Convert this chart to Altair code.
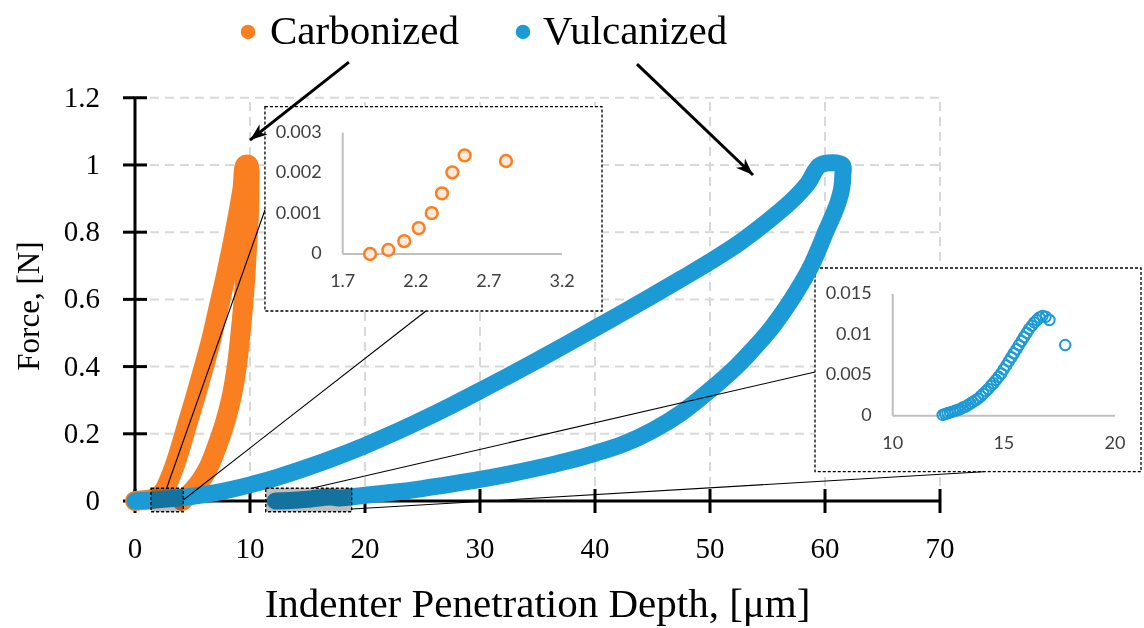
import math
import altair as alt
import pandas as pd

ORANGE = "#FA7F20"
BLUE = "#1B9AD6"
SERIF = "Liberation Serif"
SANS = "Lato"

# ---------------- main curves ----------------
carb_x = [0.0, 1.0, 1.9, 2.5, 3.0, 3.5, 4.0, 4.6, 5.3, 6.0, 6.7, 7.3, 7.9, 8.45, 8.95, 9.35, 9.6,
          9.85, 9.95, 9.9, 9.75, 9.6, 9.4, 9.15, 8.85, 8.4, 7.8, 7.1, 6.4, 5.7, 5.0, 4.4, 4.1]
carb_y = [0.0, 0.003, 0.01, 0.03, 0.065, 0.11, 0.165, 0.235, 0.315, 0.4, 0.49, 0.58, 0.67, 0.76, 0.85, 0.93, 1.0,
          1.0, 0.93, 0.85, 0.76, 0.67, 0.58, 0.49, 0.4, 0.31, 0.23, 0.16, 0.1, 0.06, 0.03, 0.01, 0.0]

vulc_x = [0, 2.5, 5, 7.5, 10, 12.5, 15, 17.5, 20, 22.5, 25, 27.5, 30, 32.5, 35, 37.5, 40, 42.5, 45,
          47.5, 50, 52.5, 55, 57, 58.5, 59.6,
          61.5, 61.55, 61.45, 61.15, 60.7, 60.05, 59.45, 58.8, 58.0, 57.1, 56.1, 55.0, 53.7, 52.3,
          50.0, 47.5, 45.0, 42.5, 40, 37.5, 35, 32.5, 30, 27.5, 25, 22.5, 20, 18.5, 17.8, 17, 15, 13.5, 12.2]
vulc_y = [0, 0.005, 0.014, 0.028, 0.048, 0.072, 0.100, 0.131, 0.165, 0.202, 0.242, 0.284, 0.328, 0.373,
          0.419, 0.466, 0.514, 0.562, 0.611, 0.661, 0.712, 0.767, 0.832, 0.89, 0.945, 1.0,
          1.0, 0.97, 0.93, 0.89, 0.85, 0.8, 0.75, 0.7, 0.65, 0.6, 0.55, 0.5, 0.45, 0.4,
          0.33, 0.262, 0.21, 0.17, 0.142, 0.118, 0.098, 0.080, 0.064, 0.050, 0.037, 0.026, 0.017, 0.011,
          0.009, 0.012, 0.005, 0.0013, 0.0]

# ---------------- inset data ----------------
carb_in_x = [1.887, 2.012, 2.121, 2.220, 2.309, 2.379, 2.450, 2.534, 2.817]
carb_in_y = [0.0, 0.0001, 0.00032, 0.00064, 0.00101, 0.0015, 0.00202, 0.00244, 0.0023]

vulc_in_x = [12.25, 12.36, 12.47, 12.58, 12.70, 12.81, 12.92, 13.04, 13.15, 13.27, 13.38, 13.50,
             13.61, 13.73, 13.84, 13.96, 14.07, 14.19, 14.30, 14.42, 14.53, 14.65, 14.76, 14.88,
             14.99, 15.11, 15.22, 15.34, 15.45, 15.57, 15.68, 15.80, 15.91, 16.03, 16.14, 16.26,
             16.37, 16.49, 16.60, 16.74, 16.88, 17.05, 17.76]
vulc_in_y = [0.0001, 0.0002, 0.0003, 0.0004, 0.0005, 0.0006, 0.0007, 0.0008, 0.0010, 0.0011, 0.0013, 0.0015,
             0.0017, 0.0019, 0.0021, 0.0024, 0.0027, 0.0030, 0.0033, 0.0037, 0.0040, 0.0044, 0.0048, 0.0052,
             0.0057, 0.0062, 0.0067, 0.0072, 0.0077, 0.0082, 0.0087, 0.0092, 0.0097, 0.0102, 0.0107, 0.0111,
             0.0115, 0.0118, 0.0121, 0.0123, 0.0122, 0.0118, 0.0087]

# ---------------- ticks / labels ----------------
main_xticks = [0, 10, 20, 30, 40, 50, 60, 70]
main_xlabels = ["0", "10", "20", "30", "40", "50", "60", "70"]
main_yticks = [0, 0.2, 0.4, 0.6, 0.8, 1.0, 1.2]
main_ylabels = ["0", "0.2", "0.4", "0.6", "0.8", "1", "1.2"]
ins1_xticks = [1.7, 2.2, 2.7, 3.2]
ins1_xlabels = ["1.7", "2.2", "2.7", "3.2"]
ins1_yticks = [0, 0.001, 0.002, 0.003]
ins1_ylabels = ["0", "0.001", "0.002", "0.003"]
ins2_xticks = [10, 15, 20]
ins2_xlabels = ["10", "15", "20"]
ins2_yticks = [0, 0.005, 0.01, 0.015]
ins2_ylabels = ["0", "0.005", "0.01", "0.015"]

series_names = ["Carbonized", "Vulcanized"]
x_title = "Indenter Penetration Depth, [\u03bcm]"
y_title = "Force, [N]"

# ---------------- annotation anchors (main data units) ----------------
legend_dot_x = [9.83, 33.74]
legend_text_x = [11.74, 35.48]
legend_dot_y = [1.396, 1.396]
legend_text_y = [1.36, 1.36]
arrow_x0 = [18.6, 43.65]
arrow_y0 = [1.306, 1.300]
arrow_x1 = [10.0, 53.74]
arrow_y1 = [1.074, 0.970]
zoom_x0 = [1.39, 11.37]
zoom_x1 = [4.20, 18.84]
zoom_y0 = [-0.032, -0.032]
zoom_y1 = [0.038, 0.038]
inset_x0 = [11.30, 59.13]
inset_x1 = [40.61, 87.48]
inset_y0 = [0.5654, 0.0872]
inset_y1 = [1.1734, 0.6934]
conn_x0 = [2.75, 4.20, 15.37, 18.84]
conn_y0 = [0.038, 0.003, 0.038, -0.024]
conn_x1 = [11.30, 25.30, 59.13, 73.77]
conn_y1 = [0.866, 0.5654, 0.3839, 0.0872]
xtitle_pos = (35.0, -0.3095)
ytitle_pos = (-9.13, 0.58)

# ---------------- scales ----------------
MX_RANGE = [135, 940]
MY_RANGE = [501, 97.75]
mxs = alt.Scale(domain=[0, 70], range=MX_RANGE, nice=False, zero=False)
mys = alt.Scale(domain=[0, 1.2], range=MY_RANGE, nice=False, zero=False)
i1xs = alt.Scale(domain=[1.7, 3.2], range=[342.7, 562], nice=False, zero=False)
i1ys = alt.Scale(domain=[0, 0.003], range=[254, 132.7], nice=False, zero=False)
i2xs = alt.Scale(domain=[10, 20], range=[892.7, 1115], nice=False, zero=False)
i2ys = alt.Scale(domain=[0, 0.015], range=[415.7, 294], nice=False, zero=False)

PXX = (MX_RANGE[1] - MX_RANGE[0]) / 70.0
PXY = (MY_RANGE[0] - MY_RANGE[1]) / 1.2


def xy(xs, ys, x="x", y="y"):
    return dict(x=alt.X(x, type="quantitative", scale=xs, axis=None),
                y=alt.Y(y, type="quantitative", scale=ys, axis=None))


def M(df):
    return alt.Chart(pd.DataFrame(df))


# ---------------- main layer ----------------
grid_v = M({"x": main_xticks[1:], "y": [0] * 7, "y2": [1.2] * 7}).mark_rule(
    color="#d9d9d9", strokeWidth=2, strokeDash=[9, 6]).encode(**xy(mxs, mys), y2="y2")
grid_h = M({"y": main_yticks[1:], "x": [0] * 6, "x2": [70] * 6}).mark_rule(
    color="#d9d9d9", strokeWidth=2, strokeDash=[9, 6]).encode(**xy(mxs, mys), x2="x2")

inset_boxes = M({"x": inset_x0, "x2": inset_x1, "y": inset_y0, "y2": inset_y1}).mark_rect(
    fill="white", stroke="black", strokeWidth=1.3, strokeDash=[3, 2]).encode(
    **xy(mxs, mys), x2="x2", y2="y2")

axis_lines = M({"x": [0, 0], "x2": [0, 70], "y": [0, 0], "y2": [1.2, 0]}).mark_rule(
    color="black", strokeWidth=3).encode(**xy(mxs, mys), x2="x2", y2="y2")
xticks = M({"x": main_xticks, "y": [0] * 8}).mark_tick(
    orient="vertical", size=24, thickness=3, color="black", opacity=1).encode(**xy(mxs, mys))
yticks = M({"x": [0] * 7, "y": main_yticks}).mark_tick(
    orient="horizontal", size=24, thickness=3, color="black", opacity=1).encode(**xy(mxs, mys))

carb_line = M({"x": carb_x, "y": carb_y, "i": list(range(len(carb_x)))}).mark_line(
    color=ORANGE, strokeWidth=20, strokeCap="round", strokeJoin="round",
    interpolate="catmull-rom").encode(**xy(mxs, mys), order="i:Q")
vulc_line = M({"x": vulc_x, "y": vulc_y, "i": list(range(len(vulc_x)))}).mark_line(
    color=BLUE, strokeWidth=17, strokeCap="round", strokeJoin="round",
    interpolate="catmull-rom").encode(**xy(mxs, mys), order="i:Q")

zoom_boxes = M({"x": zoom_x0, "x2": zoom_x1, "y": zoom_y0, "y2": zoom_y1}).mark_rect(
    fill="#bdbdbd", blend="multiply", stroke="black", strokeWidth=1.3, strokeDash=[3, 2]).encode(
    **xy(mxs, mys), x2="x2", y2="y2")

connectors = M({"x": conn_x0, "y": conn_y0, "x2": conn_x1, "y2": conn_y1}).mark_rule(
    color="black", strokeWidth=1.1).encode(**xy(mxs, mys), x2="x2", y2="y2")

angles = []
for a, b, c, d in zip(arrow_x0, arrow_y0, arrow_x1, arrow_y1):
    dxp = (c - a) * PXX
    dyp = -(d - b) * PXY
    angles.append(math.degrees(math.atan2(dxp, -dyp)) % 360)

arrow_shafts = M({"x": arrow_x0, "y": arrow_y0, "x2": arrow_x1, "y2": arrow_y1}).mark_rule(
    color="black", strokeWidth=3).encode(**xy(mxs, mys), x2="x2", y2="y2")
arrow_heads = M({"x": arrow_x1, "y": arrow_y1, "ang": angles}).mark_point(
    shape="M0,0L0.75,2L0,1.4L-0.75,2Z", filled=True, size=300, color="black", opacity=1).encode(
    **xy(mxs, mys), angle=alt.Angle("ang:Q", scale=None))

legend_dots = M({"x": legend_dot_x, "y": legend_dot_y, "s": series_names}).mark_circle(
    size=210, opacity=1).encode(
    **xy(mxs, mys),
    color=alt.Color("s:N", scale=alt.Scale(domain=series_names, range=[ORANGE, BLUE]), legend=None))
legend_text = M({"x": legend_text_x, "y": legend_text_y, "s": series_names}).mark_text(
    align="left", baseline="alphabetic", font=SERIF, fontSize=41, color="black").encode(
    **xy(mxs, mys), text="s:N")

xlab = M({"x": main_xticks, "y": [0] * 8, "t": main_xlabels}).mark_text(
    align="center", baseline="middle", dy=48, font=SERIF, fontSize=29, color="black").encode(
    **xy(mxs, mys), text="t:N")
ylab = M({"x": [0] * 7, "y": main_yticks, "t": main_ylabels}).mark_text(
    align="right", baseline="middle", dx=-35, font=SERIF, fontSize=29, color="black").encode(
    **xy(mxs, mys), text="t:N")
xtitle = M({"x": [xtitle_pos[0]], "y": [xtitle_pos[1]], "t": [x_title]}).mark_text(
    align="center", baseline="middle", font=SERIF, fontSize=41, color="black").encode(
    **xy(mxs, mys), text="t:N")
ytitle = M({"x": [ytitle_pos[0]], "y": [ytitle_pos[1]], "t": [y_title]}).mark_text(
    align="center", baseline="middle", angle=270, font=SERIF, fontSize=31, color="black").encode(
    **xy(mxs, mys), text="t:N")

main = alt.layer(grid_v, grid_h, inset_boxes, axis_lines, xticks, yticks, carb_line, vulc_line,
                 zoom_boxes, connectors, arrow_shafts, arrow_heads, legend_dots, legend_text,
                 xlab, ylab, xtitle, ytitle)


# ---------------- insets ----------------
def inset(xs, ys, xticks_, xlabels_, yticks_, ylabels_, px, py, pts):
    x0, x1 = xticks_[0], xticks_[-1]
    y0, y1 = yticks_[0], yticks_[-1]
    ax = M({"x": [x0, x0], "x2": [x0, x1], "y": [y0, y0], "y2": [y1, y0]}).mark_rule(
        color="#bfbfbf", strokeWidth=2).encode(**xy(xs, ys), x2="x2", y2="y2")
    xl = M({"x": xticks_, "y": [y0] * len(xticks_), "t": xlabels_}).mark_text(
        align="center", baseline="middle", dy=28, font=SANS, fontSize=18, color="#404040").encode(
        **xy(xs, ys), text="t:N")
    yl = M({"x": [x0] * len(yticks_), "y": yticks_, "t": ylabels_}).mark_text(
        align="right", baseline="middle", dx=-21, font=SANS, fontSize=18, color="#404040").encode(
        **xy(xs, ys), text="t:N")
    p = M({"x": px, "y": py}).mark_point(**pts).encode(**xy(xs, ys))
    return alt.layer(ax, xl, yl, p)


ins1 = inset(i1xs, i1ys, ins1_xticks, ins1_xlabels, ins1_yticks, ins1_ylabels, carb_in_x, carb_in_y,
             dict(shape="circle", filled=True, fill="#FDE9DC", stroke=ORANGE, strokeWidth=2.5,
                  size=140, opacity=1))
ins2 = inset(i2xs, i2ys, ins2_xticks, ins2_xlabels, ins2_yticks, ins2_ylabels, vulc_in_x, vulc_in_y,
             dict(shape="circle", filled=False, stroke=BLUE, strokeWidth=2, size=110, opacity=1))

chart = alt.layer(main, ins1, ins2).resolve_scale(x="independent", y="independent").properties(
    width=1144, height=628, padding=0, autosize=alt.AutoSizeParams(type="none")
).configure_view(strokeWidth=0)

chart.save("out.html", embed_options={"renderer": "svg", "actions": False})
